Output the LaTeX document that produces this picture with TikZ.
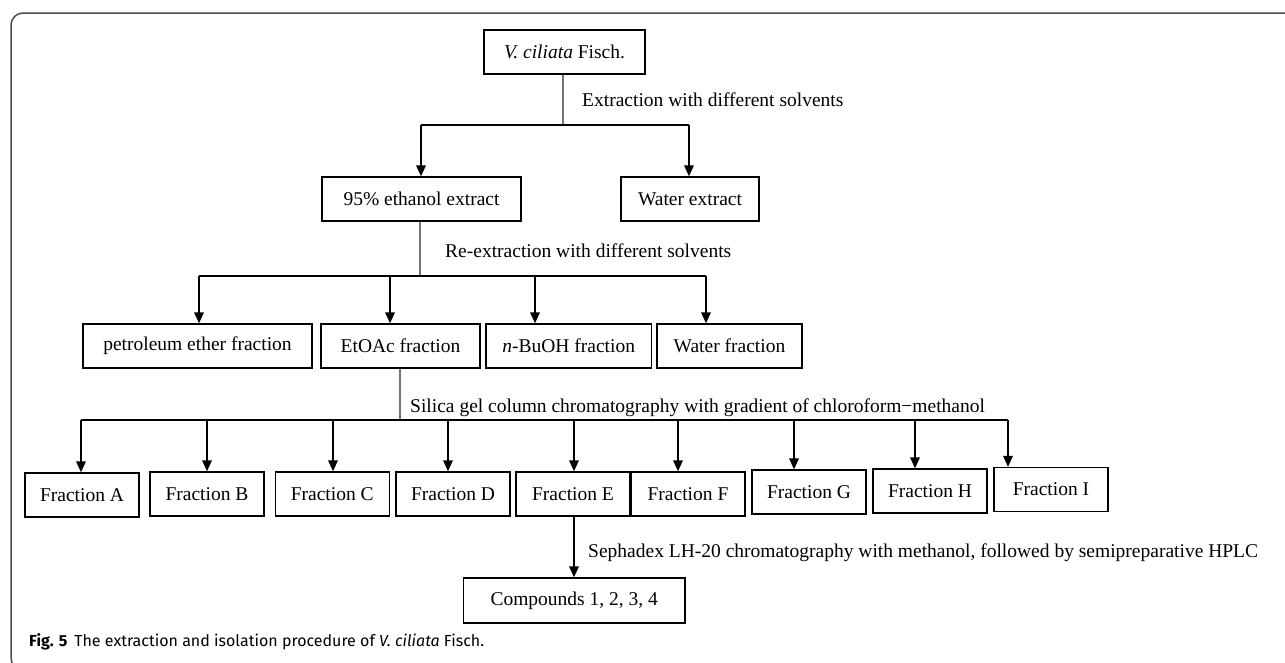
\documentclass[tikz,border=0pt]{standalone}
\usepackage{fontspec}
\setmainfont{Liberation Serif}
\newfontfamily\capfont{Fira Sans}
\usetikzlibrary{arrows.meta}
\begin{document}
\begin{tikzpicture}[x=1pt,y=-1pt,
  box/.style={draw=black,line width=1.3pt,minimum height=44pt,inner sep=0pt,font=\fontsize{19.5}{23}\selectfont},
  lbl/.style={anchor=west,inner sep=0pt,font=\fontsize{19.5}{23}\selectfont},
  stem/.style={draw=black!55,line width=1.1pt},
  bus/.style={draw=black,line width=1.3pt},
  arr/.style={draw=black,line width=1.7pt,-{Triangle[width=9.5pt,length=11pt]}},
  frame/.style={draw=black!70,line width=1.5pt,rounded corners=12pt}]
\useasboundingbox (0,0) rectangle (1285,662);
\draw[frame] (1300,13) -- (11,13) -- (11,670) -- (1300,670);

% level 1
\node[box,minimum width=161pt] (top) at (564.5,52) {\textit{V. ciliata} Fisch.};
\node[lbl] (l1) at (582,100) {Extraction with different solvents};
\coordinate (b1a) at (421,125);
\coordinate (b1b) at (689,125);
\coordinate (s1) at (563,125);
% level 2
\node[box,minimum width=199pt] (eth) at (421.5,199) {95\% ethanol extract};
\node[box,minimum width=138pt] (wex) at (690,199) {Water extract};
\draw[stem] (top.south -| s1) -- (s1);
\draw[bus] (b1a) -- (b1b);
\draw[arr] (b1a) -- (b1a |- eth.north);
\draw[arr] (b1b) -- (b1b |- wex.north);

\node[lbl] (l2) at (445,251) {Re-extraction with different solvents};
\coordinate (s2) at (420,276);
\coordinate (b2a) at (199,276);
\coordinate (b2b) at (390,276);
\coordinate (b2c) at (535,276);
\coordinate (b2d) at (706,276);
% level 3
\node[box,minimum width=229pt] (pet) at (197.5,346) {petroleum ether fraction};
\node[box,minimum width=159pt] (eto) at (400.5,346) {EtOAc fraction};
\node[box,minimum width=165.5pt] (but) at (568.75,346) {\textit{n}-BuOH fraction};
\node[box,minimum width=145pt] (wfr) at (729.5,346) {Water fraction};
\draw[stem] (eth.south -| s2) -- (s2);
\draw[bus] (b2a) -- (b2d);
\draw[arr] (b2a) -- (b2a |- pet.north);
\draw[arr] (b2b) -- (b2b |- eto.north);
\draw[arr] (b2c) -- (b2c |- but.north);
\draw[arr] (b2d) -- (b2d |- wfr.north);

\node[lbl] (l3) at (410,408) {Silica gel column chromatography with gradient of chloroform−methanol};
\coordinate (s3) at (400,420);
\coordinate (c1) at (81,420);
\coordinate (c2) at (207,420);
\coordinate (c3) at (333,420);
\coordinate (c4) at (448,420);
\coordinate (c5) at (574,420);
\coordinate (c6) at (678,420);
\coordinate (c7) at (794,420);
\coordinate (c8) at (915,420);
\coordinate (c9) at (1008,420);
% level 4
\node[box,minimum width=114pt] (fa) at (82,495) {Fraction A};
\node[box,minimum width=114pt] (fb) at (207,494) {Fraction B};
\node[box,minimum width=114pt] (fc) at (332.25,494) {Fraction C};
\node[box,minimum width=114pt] (fd) at (453,494) {Fraction D};
\node[box,minimum width=114pt] (fe) at (573,494) {Fraction E};
\node[box,minimum width=114pt] (ff) at (688,494) {Fraction F};
\node[box,minimum width=114pt] (fg) at (809,492) {Fraction G};
\node[box,minimum width=114pt] (fh) at (930,491) {Fraction H};
\node[box,minimum width=114pt] (fi) at (1051,489.5) {Fraction I};
\draw[stem] (eto.south -| s3) -- (s3);
\draw[bus] (c1) -- (c9);
\draw[arr] (c1) -- (c1 |- fa.north);
\draw[arr] (c2) -- (c2 |- fb.north);
\draw[arr] (c3) -- (c3 |- fc.north);
\draw[arr] (c4) -- (c4 |- fd.north);
\draw[arr] (c5) -- (c5 |- fe.north);
\draw[arr] (c6) -- (c6 |- ff.north);
\draw[arr] (c7) -- (c7 |- fg.north);
\draw[arr] (c8) -- (c8 |- fh.north);
\draw[arr] (c9) -- (c9 |- fi.north);

\node[lbl] (l4) at (588,553) {Sephadex LH-20 chromatography with methanol, followed by semipreparative HPLC};
% level 5
\node[box,minimum width=221.5pt,minimum height=45pt] (cmp) at (574.25,600.5) {Compounds 1, 2, 3, 4};
\draw[arr] (fe.south -| c5) -- (c5 |- cmp.north);

\node[anchor=west,inner sep=0pt,font=\capfont\fontsize{16}{18}\selectfont] (cap) at (29,642) {\textbf{Fig. 5}\hspace{7pt}The extraction and isolation procedure of \textit{V. ciliata} Fisch.};
\end{tikzpicture}
\end{document}
